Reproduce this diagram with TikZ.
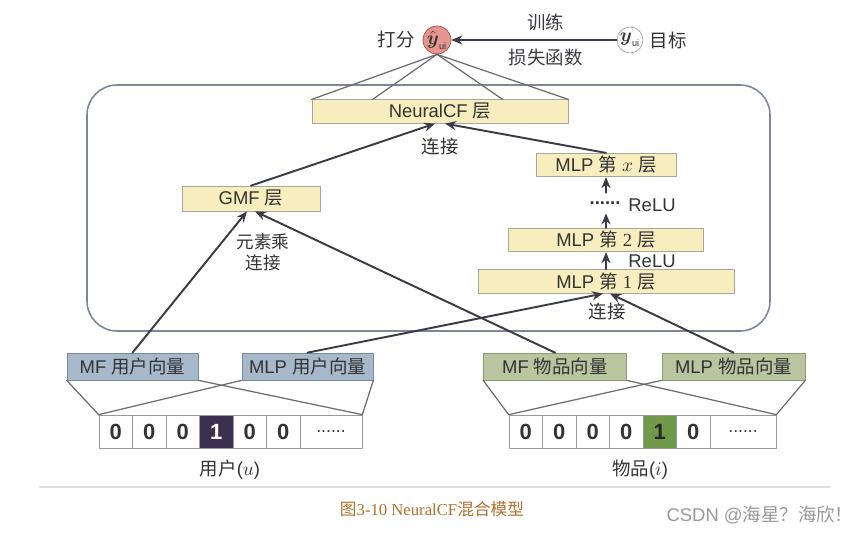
\documentclass[tikz,border=0pt]{standalone}
\usepackage{amsmath}
\usepackage{fontspec}
\setmainfont{Liberation Sans}
\newfontfamily\cjk{Noto Sans CJK SC}
\newfontfamily\serif{Liberation Serif}
\usetikzlibrary{arrows.meta}

\definecolor{layerfill}{HTML}{F7EDBF}
\definecolor{layerline}{HTML}{A9A79C}
\definecolor{userfill}{HTML}{A8B8CB}
\definecolor{userline}{HTML}{778AA0}
\definecolor{itemfill}{HTML}{B8C59E}
\definecolor{itemline}{HTML}{8D9C70}
\definecolor{useron}{HTML}{3C3050}
\definecolor{itemon}{HTML}{70994A}
\definecolor{arrowc}{HTML}{3B3B48}
\definecolor{framec}{HTML}{7C889A}
\definecolor{scorefill}{HTML}{E6948F}
\definecolor{captionc}{HTML}{B2702C}
\definecolor{textc}{HTML}{333333}

\tikzset{
	layer/.style={draw=layerline, fill=layerfill, inner sep=0pt, minimum height=0.47cm},
	userbox/.style={draw=userline, fill=userfill, inner sep=0pt, minimum width=2.62cm, minimum height=0.54cm},
	itembox/.style={draw=itemline, fill=itemfill, inner sep=0pt, minimum width=2.86cm, minimum height=0.54cm},
	cell/.style={draw=gray!80, fill=white, inner sep=0pt, minimum width=0.67cm, minimum height=0.66cm, font=\fontsize{12.5}{14}\selectfont\bfseries},
	useron/.style={cell, fill=useron, text=white},
	itemon/.style={cell, fill=itemon, text=black!85},
	conn/.style={-{Stealth[length=2.2mm, width=1.8mm]}, arrowc, line width=1.1pt},
	fan/.style={gray!85!black, line width=0.7pt},
	frame/.style={framec, line width=0.9pt, rounded corners=0.6cm}
}

\begin{document}
\begin{tikzpicture}[x=0.02cm, y=-0.02cm, line join=round, line cap=round, text=textc, font=\fontsize{10.5}{12.5}\selectfont]
	\useasboundingbox (0,0) rectangle (865,533);
	
	% Khung ngoai
	\draw[frame] (87,85) rectangle (770,331);
	
	% Diem du doan va muc tieu
	\node[circle, draw=red!50!black!70, fill=scorefill, inner sep=0pt, minimum size=0.56cm] (yhat) at (437,40) {$\hat{\boldsymbol{y}}_{\scriptscriptstyle\mathrm{ui}}$};
	\node[left=1pt] (scorelbl) at (yhat.west) {\cjk 打分};
	\node[circle, draw=gray!70, fill=white, inner sep=0pt, minimum size=0.52cm] (ytrue) at (630,40) {$\boldsymbol{y}_{\scriptscriptstyle\mathrm{ui}}$};
	\node[right=0pt] (targetlbl) at (ytrue.east) {\cjk 目标};
	\draw[conn] (ytrue) -- node[pos=0.43, above=1pt] (trainlbl) {\cjk 训练} node[pos=0.43, below=1pt] (losslbl) {\cjk 损失函数} (yhat);
	
	% Cac tang
	\node[layer, minimum width=5.12cm] (ncf) at (440,111.5) {NeuralCF {\cjk 层}};
	\node (ncfjoin) at (440,147) {\cjk 连接};
	\node[layer, minimum width=2.76cm, minimum height=0.5cm] (gmf) at (251,198.5) {GMF {\cjk 层}};
	\node[align=center, font=\cjk] (gmfjoin) at (263,252) {元素乘\\连接};
	\node[layer, minimum width=2.8cm] (mlpx) at (606,165) {MLP {\cjk 第} $x$ {\cjk 层}};
	\node[inner sep=0pt, minimum height=0.4cm] (dots) at (605,203) {\bfseries ......};
	\node (relua) at (652,205) {ReLU};
	\node[layer, minimum width=3.9cm] (mlpb) at (606,240) {MLP {\cjk 第} {\serif 2} {\cjk 层}};
	\node (relub) at (652,261) {ReLU};
	\node[layer, minimum width=5.12cm] (mlpa) at (606,281.5) {MLP {\cjk 第} {\serif 1} {\cjk 层}};
	\node (mlpjoin) at (607,312) {\cjk 连接};
	
	% Duong noi diem du doan
	\draw[fan] (yhat.south) -- (ncf.north west);
	\draw[fan] (yhat.south) -- ([xshift=1.22cm]ncf.north west);
	\draw[fan] (yhat.south) -- ([xshift=3.82cm]ncf.north west);
	\draw[fan] (yhat.south) -- (ncf.north east);
	
	% Mui ten giua cac tang
	\draw[conn] (gmf.north) -- ([xshift=-0.1cm]ncf.south);
	\draw[conn] (mlpx.north) -- ([xshift=0.1cm]ncf.south);
	\draw[conn] (dots.north -| mlpx.south) -- (mlpx.south);
	\draw[conn] (mlpb.north) -- (dots.south -| mlpb.north);
	\draw[conn] (mlpa.north) -- (mlpb.south);
	
	% Vector nhung
	\node[userbox] (mfu) at (132.5,366.5) {MF {\cjk 用户向量}};
	\node[userbox] (mlpu) at (307.5,366.5) {MLP {\cjk 用户向量}};
	\node[itembox] (mfi) at (555,366.5) {MF {\cjk 物品向量}};
	\node[itembox] (mlpi) at (733.5,366.5) {MLP {\cjk 物品向量}};
	
	\draw[conn] (mfu.north) -- ([xshift=-0.08cm]gmf.south);
	\draw[conn] (mfi.north) -- ([xshift=0.08cm]gmf.south);
	\draw[conn] (mlpu.north) -- ([xshift=-0.06cm]mlpa.south);
	\draw[conn] (mlpi.north) -- ([xshift=0.08cm]mlpa.south);
	
	% Vector one-hot nguoi dung
	\foreach \v/\s [count=\i] in {0/cell,0/cell,0/cell,1/useron,0/cell,0/cell}
		\node[\s] (u\i) at (82.25+33.5*\i,431.5) {\v};
	\node[cell, minimum width=1.24cm, font=\normalfont] (u7) at (331,431.5) {......};
	\node (ulbl) at (230,470) {{\cjk 用户}($u$)};
	
	% Vector one-hot vat pham
	\foreach \v/\s [count=\i] in {0/cell,0/cell,0/cell,0/cell,1/itemon,0/cell}
		\node[\s] (i\i) at (492.25+33.5*\i,431.5) {\v};
	\node[cell, minimum width=1.32cm, font=\normalfont] (i7) at (743,431.5) {......};
	\node (ilbl) at (640,470) {{\cjk 物品}($i$)};
	
	% Duong chieu xuong vector
	\draw[fan] (mfu.south west) -- (u1.north west);
	\draw[fan] (mfu.south east) -- (u7.north east);
	\draw[fan] (mlpu.south west) -- (u1.north west);
	\draw[fan] (mlpu.south east) -- (u7.north east);
	\draw[fan] (mfi.south west) -- (i1.north west);
	\draw[fan] (mfi.south east) -- (i7.north east);
	\draw[fan] (mlpi.south west) -- (i1.north west);
	\draw[fan] (mlpi.south east) -- (i7.north east);
	
	% Chu thich
	\draw[gray!25, line width=0.8pt] (40,487) -- (830,487);
	\node[text=captionc, font=\fontsize{9.5}{11}\selectfont] (caption) at (432,509) {{\cjk 图}{\serif 3-10 NeuralCF}{\cjk 混合模型}};
	\node[text=gray!80, font=\fontsize{10.5}{12}\selectfont] (mark) at (760,515) {CSDN @{\cjk 海星？海欣！}};
\end{tikzpicture}
\end{document}
